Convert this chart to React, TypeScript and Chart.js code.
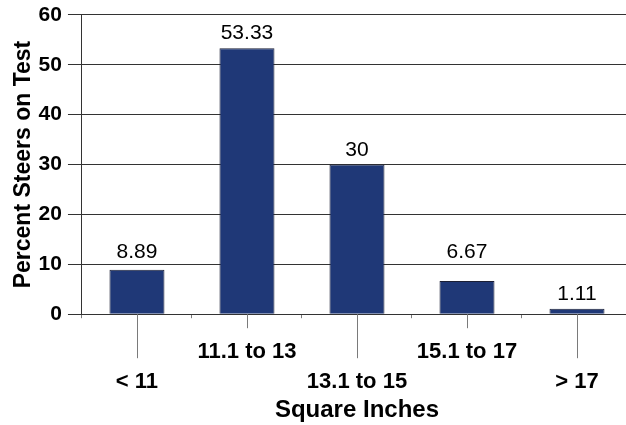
import React, { useEffect, useRef } from 'react';
import { Chart, registerables } from 'chart.js';

Chart.register(...registerables);

const categories: string[] = ['< 11', '11.1 to 13', '13.1 to 15', '15.1 to 17', '> 17'];
const percentSteers: number[] = [8.89, 53.33, 30, 6.67, 1.11];
const valueLabels: string[] = ['8.89', '53.33', '30', '6.67', '1.11'];
const yAxisTitle = 'Percent Steers on Test';
const xAxisTitle = 'Square Inches';

const FONT = "'Liberation Sans', Arial, Helvetica, sans-serif";

const leaderLines = {
  id: 'leaderLines',
  afterDraw(chart: any) {
    const ctx = chart.ctx;
    const xs = chart.scales.x;
    const bottom = chart.chartArea.bottom;
    ctx.save();
    ctx.strokeStyle = '#7a7a7a';
    ctx.lineWidth = 1;
    categories.forEach((_, i) => {
      const px = Math.round(xs.getPixelForValue(i)) + 0.5;
      const len = i % 2 === 0 ? 44 : 14;
      ctx.beginPath();
      ctx.moveTo(px, bottom);
      ctx.lineTo(px, bottom + len);
      ctx.stroke();
    });
    ctx.restore();
  },
};

// Value labels sit above their bar; if a label would cross a gridline it is lifted above that gridline.
const barValueLabels = {
  id: 'barValueLabels',
  afterDatasetsDraw(chart: any) {
    const ctx = chart.ctx;
    const ys = chart.scales.y;
    const meta = chart.getDatasetMeta(0);
    const gridPixels: number[] = ys.ticks.map((t: any) => ys.getPixelForValue(t.value));
    ctx.save();
    ctx.font = `21px ${FONT}`;
    ctx.fillStyle = '#000';
    ctx.textAlign = 'center';
    ctx.textBaseline = 'bottom';
    meta.data.forEach((bar: any, i: number) => {
      let bottom = bar.y - 4;
      const top = bottom - 18;
      gridPixels.forEach((p) => {
        if (p < bottom && p > top) bottom = p - 2;
      });
      ctx.fillText(valueLabels[i], bar.x, bottom);
    });
    ctx.restore();
  },
};

export default function App() {
  const canvasRef = useRef<HTMLCanvasElement | null>(null);

  useEffect(() => {
    document.body.style.margin = '0';
    const canvas = canvasRef.current;
    if (!canvas) return;
    const chart = new Chart(canvas, {
      type: 'bar',
      data: {
        labels: categories,
        datasets: [
          {
            data: percentSteers,
            backgroundColor: '#1f3877',
            borderColor: '#1b1f35',
            borderWidth: 1,
            barPercentage: 0.5,
            categoryPercentage: 1,
          },
        ],
      },
      options: {
        animation: false,
        responsive: false,
        devicePixelRatio: 1,
        layout: { padding: { top: 12, right: 8, left: 6, bottom: 0 } },
        plugins: {
          legend: { display: false },
          tooltip: { enabled: false },
        },
        scales: {
          x: {
            offset: true,
            grid: {
              display: true,
              drawOnChartArea: false,
              drawTicks: true,
              tickLength: 4,
              color: '#7a7a7a',
              offset: true,
            },
            border: { display: true, color: '#333' },
            ticks: {
              color: '#000',
              padding: 19,
              maxRotation: 0,
              autoSkip: false,
              font: { family: FONT, size: 22, weight: 'bold', lineHeight: '30px' },
              callback: (_v: any, i: number) => (i % 2 === 0 ? ['', categories[i]] : [categories[i]]),
            },
            title: {
              display: true,
              text: xAxisTitle,
              color: '#000',
              font: { family: FONT, size: 24, weight: 'bold' },
              padding: { top: -20, bottom: 0 },
            },
          },
          y: {
            min: 0,
            max: 60,
            grid: {
              color: '#333',
              tickLength: 14,
              drawTicks: true,
            },
            border: { display: true, color: '#333' },
            ticks: {
              stepSize: 10,
              color: '#000',
              padding: 6,
              font: { family: FONT, size: 21, weight: 'bold', lineHeight: 0.85 },
            },
            title: {
              display: true,
              text: yAxisTitle,
              color: '#000',
              font: { family: FONT, size: 23, weight: 'bold' },
              padding: { top: 4, bottom: -5 },
            },
          },
        },
      },
      plugins: [leaderLines, barValueLabels],
    });
    return () => chart.destroy();
  }, []);

  return (
    <div style={{ width: 626, height: 425, overflow: 'hidden' }}>
      <canvas ref={canvasRef} width={640} height={425} style={{ display: 'block' }} />
    </div>
  );
}
